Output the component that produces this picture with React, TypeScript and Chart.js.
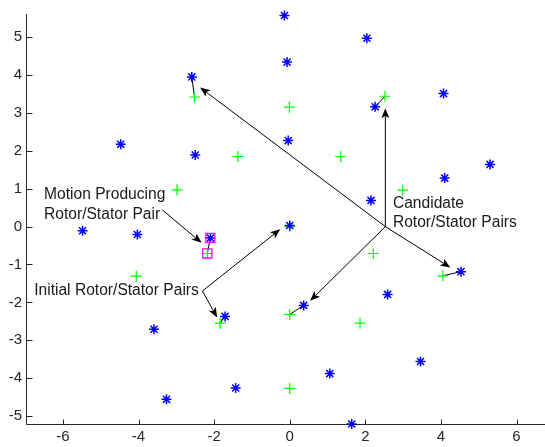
import React, { useEffect, useRef } from 'react';
import { Chart, registerables } from 'chart.js';

Chart.register(...registerables);

// Blue "*" markers (rotors)
const rotorX = [-2.59, -4.47, -2.5, -0.14, 2.04, -0.07, 2.26, 4.07, -0.04, 5.3, 4.1, 2.15, -5.48, -4.03, -2.1, -1.71, -3.59, -3.26, -1.43, 0.0, 4.53, 2.59, 0.37, 3.46, 1.06, 1.64];
const rotorY = [3.95, 2.17, 1.89, 5.57, 4.97, 4.34, 3.16, 3.51, 2.27, 1.64, 1.28, 0.69, -0.11, -0.21, -0.3, -2.37, -2.71, -4.56, -4.26, 0.03, -1.19, -1.79, -2.08, -3.56, -3.88, -5.21];

// Green "+" markers (stators)
const statorX = [-2.52, -1.37, -2.98, -0.01, 2.52, 1.35, 2.99, -2.18, -4.06, -1.84, 0.0, 2.21, 4.05, 0.0, 1.86, 0.0];
const statorY = [3.42, 1.85, 0.97, 3.15, 3.44, 1.85, 0.96, -0.71, -1.31, -2.55, 0.0, -0.71, -1.3, -2.32, -2.55, -4.27];

// Rotor/stator pairs joined by a short line (indices into the arrays above)
const pairRotor = [0, 6, 14, 15, 19, 20, 22];
const pairStator = [0, 4, 7, 9, 10, 12, 13];

// Highlighted (magenta squares) pair
const highlightRotor = [14];
const highlightStator = [7];

const xTicks = [-6, -4, -2, 0, 2, 4, 6];
const yTicks = [-5, -4, -3, -2, -1, 0, 1, 2, 3, 4, 5];
const xRange = [-6.95, 6.55];
const yRange = [-5.21, 5.61];

// Annotation arrows (data coordinates)
const arrowFromX = [2.53, 2.53, 2.53, 2.53, -2.31, -2.31, -3.37];
const arrowFromY = [0.0, 0.0, 0.0, 0.0, -1.7, -1.7, 0.44];
const arrowToX = [2.53, -2.37, 4.25, 0.54, -0.25, -1.92, -2.33];
const arrowToY = [3.12, 3.67, -1.08, -1.96, -0.07, -2.4, -0.43];

// Annotation text (left-aligned, baseline in data coordinates)
const labelText = ['Motion Producing', 'Rotor/Stator Pair', 'Candidate', 'Rotor/Stator Pairs', 'Initial Rotor/Stator Pairs'];
const labelX = [-6.5, -6.5, 2.73, 2.73, -6.76];
const labelY = [0.72, 0.21, 0.49, -0.01, -1.81];

const FONT_FAMILY = '"Liberation Sans", Arial, sans-serif';
const FONT_SIZE = 15;
const LABEL_FONT_SIZE = 15.6;
const AXIS_COLOR = '#262626';

const overlay = {
  id: 'overlay',
  beforeDatasetsDraw(chart: any) {
    const { ctx, chartArea, scales } = chart;
    const x = scales.x;
    const y = scales.y;
    ctx.save();
    ctx.strokeStyle = AXIS_COLOR;
    ctx.lineWidth = 1;
    const left = Math.round(chartArea.left) - 0.5;
    const bottom = Math.round(chartArea.bottom) + 0.5;
    ctx.beginPath();
    ctx.moveTo(left, chartArea.top);
    ctx.lineTo(left, bottom);
    ctx.lineTo(chart.width, bottom);
    ctx.stroke();
    ctx.beginPath();
    xTicks.forEach((v) => {
      const px = Math.round(x.getPixelForValue(v)) + 0.5;
      ctx.moveTo(px, bottom);
      ctx.lineTo(px, bottom - 5);
    });
    yTicks.forEach((v) => {
      const py = Math.round(y.getPixelForValue(v)) + 0.5;
      ctx.moveTo(left, py);
      ctx.lineTo(left + 6, py);
    });
    ctx.stroke();
    ctx.restore();
  },
  afterDatasetsDraw(chart: any) {
    const { ctx, scales } = chart;
    const x = scales.x;
    const y = scales.y;
    ctx.save();
    ctx.strokeStyle = '#000';
    ctx.fillStyle = '#000';
    ctx.lineWidth = 1;
    for (let i = 0; i < arrowFromX.length; i++) {
      const fx = x.getPixelForValue(arrowFromX[i]);
      const fy = y.getPixelForValue(arrowFromY[i]);
      const tx = x.getPixelForValue(arrowToX[i]);
      const ty = y.getPixelForValue(arrowToY[i]);
      const dx = tx - fx;
      const dy = ty - fy;
      const len = Math.hypot(dx, dy);
      const ux = dx / len;
      const uy = dy / len;
      const hl = 10;
      const hw = 4;
      const bx = tx - ux * hl;
      const by = ty - uy * hl;
      const nx = tx - ux * hl * 0.75;
      const ny = ty - uy * hl * 0.75;
      ctx.beginPath();
      ctx.moveTo(fx, fy);
      ctx.lineTo(nx, ny);
      ctx.stroke();
      ctx.beginPath();
      ctx.moveTo(tx, ty);
      ctx.lineTo(bx - uy * hw, by + ux * hw);
      ctx.lineTo(nx, ny);
      ctx.lineTo(bx + uy * hw, by - ux * hw);
      ctx.closePath();
      ctx.fill();
    }
    ctx.font = `${LABEL_FONT_SIZE}px ${FONT_FAMILY}`;
    ctx.fillStyle = '#1a1a1a';
    ctx.textAlign = 'left';
    ctx.textBaseline = 'alphabetic';
    for (let i = 0; i < labelText.length; i++) {
      ctx.fillText(labelText[i], x.getPixelForValue(labelX[i]), y.getPixelForValue(labelY[i]));
    }
    ctx.restore();
  },
};

export default function App() {
  const canvasRef = useRef<HTMLCanvasElement | null>(null);

  useEffect(() => {
    const canvas = canvasRef.current;
    if (!canvas) return;

    const rotors = rotorX.map((v, i) => ({ x: v, y: rotorY[i] }));
    const stators = statorX.map((v, i) => ({ x: v, y: statorY[i] }));
    const highlight = [
      ...highlightRotor.map((i) => ({ x: rotorX[i], y: rotorY[i] })),
      ...highlightStator.map((i) => ({ x: statorX[i], y: statorY[i] })),
    ];
    const pairSets = pairRotor.map((r, k) => ({
      label: 'pair' + k,
      data: [
        { x: rotorX[r], y: rotorY[r] },
        { x: statorX[pairStator[k]], y: statorY[pairStator[k]] },
      ],
      showLine: true,
      borderColor: '#000',
      borderWidth: 1,
      pointRadius: 0,
      clip: false as any,
    }));

    const tickFont = { family: FONT_FAMILY, size: FONT_SIZE };

    const chart = new Chart(canvas, {
      type: 'scatter',
      data: {
        datasets: [
          {
            label: 'highlight',
            data: highlight,
            pointStyle: 'rect',
            pointRadius: 6.4,
            borderColor: '#ff00ff',
            backgroundColor: 'rgba(0,0,0,0)',
            borderWidth: 1.3,
            clip: false as any,
          },
          {
            label: 'rotor',
            data: rotors,
            pointStyle: 'star',
            pointRadius: 5,
            borderColor: '#0000ff',
            backgroundColor: '#0000ff',
            borderWidth: 1.5,
            clip: false as any,
          },
          {
            label: 'stator',
            data: stators,
            pointStyle: 'cross',
            pointRadius: 5.5,
            borderColor: '#00ff00',
            backgroundColor: '#00ff00',
            borderWidth: 1.2,
            clip: false as any,
          },
          ...pairSets,
        ] as any,
      },
      options: {
        animation: false,
        responsive: false,
        events: [],
        layout: { padding: { top: 14, right: 0, left: 0, bottom: 0 } },
        plugins: {
          legend: { display: false },
          tooltip: { enabled: false },
        },
        scales: {
          x: {
            type: 'linear',
            min: xRange[0],
            max: xRange[1],
            afterBuildTicks: (s: any) => {
              s.ticks = xTicks.map((v) => ({ value: v }));
            },
            afterFit: (s: any) => {
              s.height = 23;
              s.paddingLeft = 0;
              s.paddingRight = 0;
            },
            grid: { display: false, drawTicks: false },
            border: { display: false },
            ticks: {
              font: tickFont,
              color: AXIS_COLOR,
              padding: 4,
              autoSkip: false,
              maxRotation: 0,
              callback: (v: any) => String(v),
            },
          },
          y: {
            type: 'linear',
            min: yRange[0],
            max: yRange[1],
            afterBuildTicks: (s: any) => {
              s.ticks = yTicks.map((v) => ({ value: v }));
            },
            afterFit: (s: any) => {
              s.width = 27;
              s.paddingTop = 0;
              s.paddingBottom = 0;
            },
            grid: { display: false, drawTicks: false },
            border: { display: false },
            ticks: {
              font: tickFont,
              color: AXIS_COLOR,
              padding: 5,
              autoSkip: false,
              callback: (v: any) => String(v),
            },
          },
        },
      } as any,
      plugins: [overlay],
    });

    return () => chart.destroy();
  }, []);

  return (
    <div style={{ position: 'absolute', left: 0, top: 0, width: 545, height: 447, background: '#fff' }}>
      <canvas ref={canvasRef} width={545} height={447} style={{ display: 'block' }} />
    </div>
  );
}
